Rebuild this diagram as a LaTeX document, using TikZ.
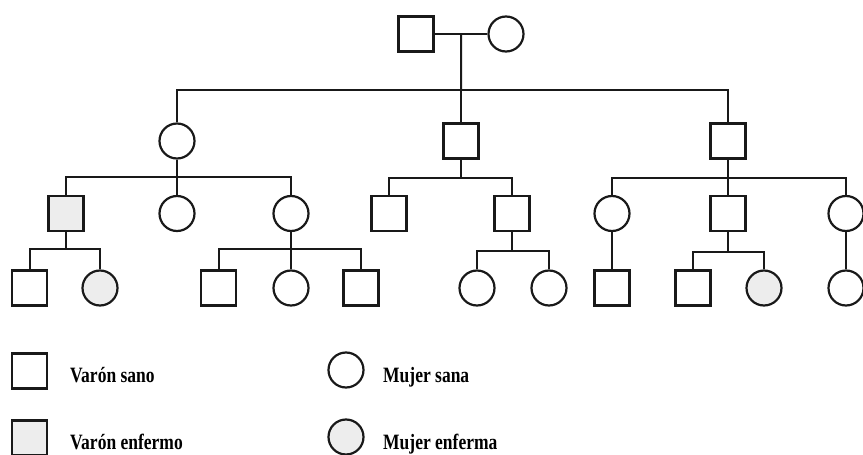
\documentclass[tikz,border=0pt]{standalone}
\usepackage{fontspec}
\setmainfont{Liberation Serif}
\usetikzlibrary{calc}
% legend labels are set tall and narrow
\newcommand{\tallword}[1]{\scalebox{1}[1.25]{#1}}
\begin{document}
\begin{tikzpicture}[x=1pt,y=-1pt,
  male/.style={draw=black!90,rectangle,minimum size=35pt,inner sep=0pt,line width=2.2pt},
  female/.style={draw=black!90,circle,minimum size=35pt,inner sep=0pt,line width=2.2pt},
  affected/.style={fill=black!7},
  link/.style={draw=black!90,line width=2pt},
  legendtext/.style={anchor=base west,inner sep=0pt,font=\fontsize{17.5}{20}\selectfont\bfseries}]
\useasboundingbox (0,0) rectangle (863,455);

% generation I
\node[male]   (f1) at (416,34) {};
\node[female] (m1) at (506,34) {};
\draw[link] (f1) -- (m1);
\coordinate (mm) at ($(f1.east)!0.5!(m1.west)$);
\coordinate (b1) at (461,90);

% generation II
\node[female] (a) at (177,141) {};
\node[male]   (b) at (461,141) {};
\node[male]   (c) at (728,141) {};
\draw[link] (mm) -- (b1);
\draw[link] (b1) -| (a.north);
\draw[link] (b1) -- (b.north);
\draw[link] (b1) -| (c.north);

% generation III
\node[male,affected] (a1) at (66,213.5) {};
\node[female] (a2) at (177,213.5) {};
\node[female] (a3) at (291,213.5) {};
\node[male]   (b1c) at (389,213.5) {};
\node[male]   (b2c) at (512,213.5) {};
\node[female] (c1) at (612,213.5) {};
\node[male]   (c2) at (728,213.5) {};
\node[female] (c3) at (846,213.5) {};

\coordinate (ba) at (177,177);
\draw[link] (a.south) -- (ba);
\draw[link] (ba) -| (a1.north);
\draw[link] (ba) -- (a2.north);
\draw[link] (ba) -| (a3.north);

\coordinate (bb) at (461,178);
\draw[link] (b.south) -- (bb);
\draw[link] (bb) -| (b1c.north);
\draw[link] (bb) -| (b2c.north);

\coordinate (bc) at (728,178);
\draw[link] (c.south) -- (bc);
\draw[link] (bc) -| (c1.north);
\draw[link] (bc) -- (c2.north);
\draw[link] (bc) -| (c3.north);

% generation IV
\node[male]   (d1) at (29.5,288) {};
\node[female,affected] (d2) at (100,288) {};
\node[male]   (e1) at (218.5,288) {};
\node[female] (e2) at (291,288) {};
\node[male]   (e3) at (361,288) {};
\node[female] (g1) at (477,288) {};
\node[female] (g2) at (549,288) {};
\node[male]   (h1) at (612,288) {};
\node[male]   (k1) at (693,288) {};
\node[female,affected] (k2) at (764,288) {};
\node[female] (n1) at (846,288) {};

\coordinate (bd) at (66,249);
\draw[link] (a1.south) -- (bd);
\draw[link] (bd) -| (d1.north);
\draw[link] (bd) -| (d2.north);

\coordinate (be) at (291,249);
\draw[link] (a3.south) -- (be);
\draw[link] (be) -| (e1.north);
\draw[link] (be) -- (e2.north);
\draw[link] (be) -| (e3.north);

\coordinate (bg) at (512,251);
\draw[link] (b2c.south) -- (bg);
\draw[link] (bg) -| (g1.north);
\draw[link] (bg) -| (g2.north);

\draw[link] (c1.south) -- (h1.north);

\coordinate (bk) at (728,252);
\draw[link] (c2.south) -- (bk);
\draw[link] (bk) -| (k1.north);
\draw[link] (bk) -| (k2.north);

\draw[link] (c3.south) -- (n1.north);

% legend
\node[male]            (l1) at (29.5,371) {};
\node[female]          (l2) at (346,370) {};
\node[male,affected]   (l3) at (29.5,438) {};
\node[female,affected] (l4) at (346,437) {};
\node[legendtext] (t1) at (70,382) {\tallword{Varón sano}};
\node[legendtext] (t2) at (383,382) {\tallword{Mujer sana}};
\node[legendtext] (t3) at (70,449) {\tallword{Varón enfermo}};
\node[legendtext] (t4) at (383,449) {\tallword{Mujer enferma}};
\end{tikzpicture}
\end{document}
